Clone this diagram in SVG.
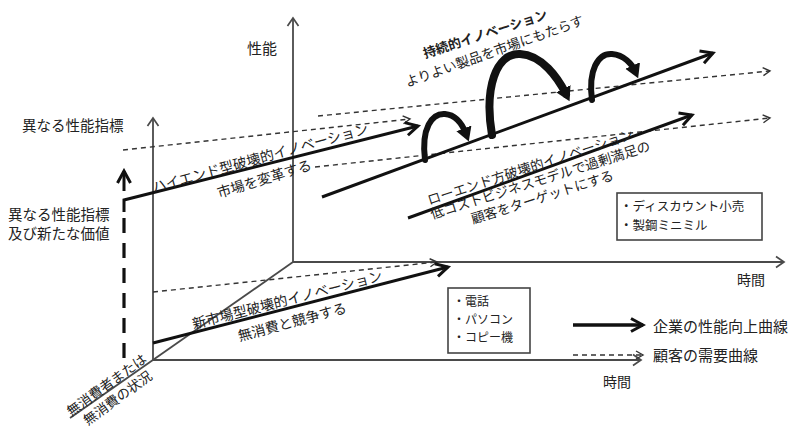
<svg xmlns="http://www.w3.org/2000/svg" width="789" height="429" viewBox="0 0 789 429">
<style>
text{font-family:"Noto Sans CJK JP","Noto Sans",sans-serif;fill:#222;}
.l{font-size:14px;}
.r{font-size:13.5px;text-anchor:middle;dominant-baseline:central;}
.b{font-size:12px;}
.ax{fill:none;stroke:#4a4a4a;stroke-width:1.8;}
.dash{fill:none;stroke:#333;stroke-width:1.4;stroke-dasharray:5 4;}
.sol{fill:none;stroke:#111;stroke-width:3;}
.arc{fill:none;stroke:#111;stroke-linecap:round;}
.box{fill:#fff;stroke:#444;stroke-width:1.6;}
</style>
<defs>
<marker id="ma" markerUnits="userSpaceOnUse" markerWidth="14" markerHeight="14" refX="11" refY="7" orient="auto"><path d="M3,1.5 L11,7 L3,12.5" fill="none" stroke="#4a4a4a" stroke-width="1.7"/></marker>
<marker id="md" markerUnits="userSpaceOnUse" markerWidth="12" markerHeight="12" refX="10" refY="6" orient="auto"><path d="M3,2 L10,6 L3,10" fill="none" stroke="#333" stroke-width="1.4"/></marker>
<marker id="ms" markerUnits="userSpaceOnUse" markerWidth="18" markerHeight="18" refX="15" refY="9" orient="auto"><path d="M3,2.5 L15,9 L3,15.5" fill="none" stroke="#111" stroke-width="3"/></marker>
<marker id="mf" markerUnits="userSpaceOnUse" markerWidth="20" markerHeight="20" refX="6" refY="10" orient="auto"><path d="M0,2 L14,10 L0,18 Z" fill="#111"/></marker>
</defs>

<g id="axes">
<path class="ax" d="M293,262 H784" marker-end="url(#ma)"/>
<path class="ax" d="M153,360 H641" marker-end="url(#ma)"/>
<path class="ax" d="M293,262 V18" marker-end="url(#ma)"/>
<path class="ax" d="M153,360 V118" marker-end="url(#ma)"/>
<path class="ax" d="M293,262 L70,418"/>
</g>

<g id="connectors">
<path class="dash" d="M318,116 L770,71" marker-end="url(#md)"/>
<path class="dash" d="M123,150 L410,119" marker-end="url(#md)"/>
<path class="dash" d="M315,167 L770,118" marker-end="url(#md)"/>
<path class="dash" d="M153,292 L437,262" marker-end="url(#md)"/>
<path class="sol" d="M124,212 V200 L418,126" marker-end="url(#ms)"/>
<path class="sol" d="M322,197 L713,53" marker-end="url(#ms)"/>
<path class="sol" d="M408,218 L692,115" marker-end="url(#ms)"/>
<path class="sol" d="M153,343 L448,267" marker-end="url(#ms)"/>
<path d="M124,358 V217" fill="none" stroke="#111" stroke-width="3.2" stroke-dasharray="15 10"/>
<path d="M124,191 V171" fill="none" stroke="#111" stroke-width="3" marker-end="url(#ms)"/>
<path class="arc" stroke-width="6" d="M425,160 C421,128 432,113 445,114 C457,115 463,126 466,134" marker-end="url(#mf)"/>
<path class="arc" stroke-width="8" d="M492,135 C484,88 496,53 520,54 C542,55 558,78 566,94" marker-end="url(#mf)"/>
<path class="arc" stroke-width="6" d="M592,100 C588,70 598,53 612,54 C624,55 632,64 635,71" marker-end="url(#mf)"/>
<path d="M573,325 H643" fill="none" stroke="#111" stroke-width="3.5" marker-end="url(#ms)"/>
<path class="dash" d="M573,355 H643" marker-end="url(#md)"/>
</g>

<g id="axis-labels">
<text x="247" y="54" style="font-size:15px">性能</text>
<text x="22" y="131" style="font-size:14.5px">異なる性能指標</text>
<text x="8" y="220" style="font-size:14.5px">異なる性能指標</text>
<text x="8" y="239" style="font-size:14.5px">及び新たな価値</text>
<text x="737" y="285" class="l">時間</text>
<text x="603" y="387" class="l">時間</text>
</g>

<g id="sustaining">
<text class="r" transform="translate(485,33) rotate(-18)" style="font-weight:bold;font-size:13px">持続的イノベーション</text>
<text class="r" transform="translate(494,50) rotate(-19.5)">よりよい製品を市場にもたらす</text>
</g>

<g id="high-end">
<text class="r" transform="translate(260,157) rotate(-15.5)" style="font-size:14px">ハイエンド型破壊的イノベーション</text>
<text class="r" transform="translate(264,178) rotate(-17)" style="font-size:14px">市場を変革する</text>
</g>

<g id="low-end">
<text class="r" transform="translate(530,166) rotate(-18)">ローエンド方破壊的イノベーション</text>
<text class="r" transform="translate(540,179) rotate(-17.5)">低コストビジネスモデルで過剰満足の</text>
<text class="r" transform="translate(542,196) rotate(-17.5)">顧客をターゲットにする</text>
</g>

<g id="new-market">
<text class="r" transform="translate(287,299) rotate(-14.5)" style="font-size:14px">新市場型破壊的イノベーション</text>
<text class="r" transform="translate(292,321) rotate(-15)" style="font-size:14px">無消費と競争する</text>
</g>

<g id="non-consumption">
<text class="r" transform="translate(106,384) rotate(-36)" style="font-size:13.5px">無消費者または</text>
<text class="r" transform="translate(117,397) rotate(-36)" style="font-size:13.5px">無消費の状況</text>
</g>

<g id="box-lowend">
<rect class="box" x="617" y="193" width="145" height="47"/>
<text x="620" y="211" class="b" style="font-size:12.5px">・ディスカウント小売</text>
<text x="620" y="230" class="b" style="font-size:12.5px">・製鋼ミニミル</text>
</g>

<g id="box-newmarket">
<rect class="box" x="448" y="288" width="82" height="65"/>
<text x="453" y="306" class="b">・電話</text>
<text x="453" y="324" class="b">・パソコン</text>
<text x="453" y="342" class="b">・コピー機</text>
</g>

<g id="legend">
<text x="653" y="332" style="font-size:15px">企業の性能向上曲線</text>
<text x="653" y="361" style="font-size:15px">顧客の需要曲線</text>
</g>
</svg>
